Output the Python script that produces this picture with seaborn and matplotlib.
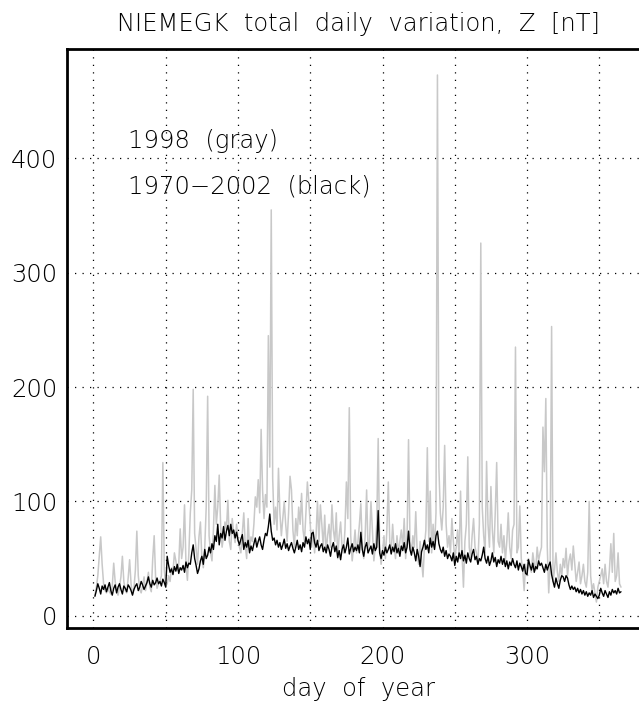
import numpy as np
import pandas as pd
import matplotlib
matplotlib.use("Agg")
import matplotlib.pyplot as plt
import seaborn as sns

# ---- data ----
mean_1970_2002 = [
    17, 22, 28, 24, 19, 26, 23, 27, 21, 25,
    29, 22, 18, 24, 27, 20, 25, 28, 23, 19,
    26, 24, 21, 27, 25, 22, 18, 23, 26, 28,
    22, 25, 30, 27, 23, 26, 29, 34, 28, 25,
    31, 27, 29, 33, 28, 30, 26, 32, 29, 25,
    52, 44, 38, 41, 36, 43, 39, 45, 37, 42,
    40, 44, 38, 47, 42, 46, 45, 55, 62, 50,
    44, 37, 41, 48, 52, 45, 58, 50, 53, 60,
    55, 63, 58, 70, 65, 80, 62, 72, 68, 78,
    66, 74, 79, 70, 80, 72, 75, 68, 73, 66,
    62, 67, 71, 58, 64, 60, 66, 55, 61, 57,
    63, 68, 60, 65, 69, 62, 58, 66, 72, 70,
    78, 89, 74, 66, 68, 62, 66, 60, 64, 58,
    62, 67, 59, 63, 57, 61, 64, 59, 55, 60,
    66, 58, 62, 56, 64, 60, 69, 63, 67, 58,
    72, 73, 64, 60, 66, 57, 61, 63, 56, 60,
    55, 62, 58, 52, 60, 64, 56, 61, 51, 57,
    49, 58, 62, 55, 60, 68, 54, 59, 63, 56,
    60, 57, 62, 55, 73, 58, 52, 60, 64, 55,
    58, 61, 54, 63, 57, 60, 92, 55, 50, 57,
    53, 60, 55, 58, 62, 54, 60, 56, 63, 55,
    59, 52, 61, 57, 64, 55, 60, 74, 58, 53,
    60, 55, 48, 58, 52, 43, 56, 60, 66, 58,
    62, 55, 68, 60, 65, 58, 70, 74, 63, 58,
    55, 60, 52, 57, 50, 54, 52, 48, 55, 44,
    52, 47, 55, 50, 57, 48, 53, 46, 55, 50,
    47, 54, 58, 49, 52, 45, 50, 48, 53, 60,
    50, 46, 52, 44, 48, 55, 47, 51, 43, 49,
    46, 52, 45, 50, 43, 48, 41, 47, 44, 50,
    45, 42, 48, 40, 46, 43, 39, 45, 37, 36,
    49, 44, 40, 46, 38, 43, 41, 48, 44, 46,
    42, 38, 45, 40, 44, 47, 36, 30, 25, 33,
    28, 24, 31, 35, 34, 30, 35, 33, 27, 23,
    26, 23, 25, 21, 24, 20, 23, 19, 22, 18,
    21, 17, 20, 18, 22, 16, 19, 17, 15, 18,
    24, 20, 17, 22, 19, 16, 21, 18, 23, 20,
    22, 19, 24, 20, 21,
]

year_1998 = [
    18, 25, 35, 52, 69, 45, 28, 22, 20, 24,
    21, 19, 26, 46, 30, 22, 18, 25, 34, 52,
    30, 22, 20, 33, 49, 28, 19, 24, 40, 74,
    35, 23, 20, 26, 34, 22, 29, 38, 25, 21,
    50, 70, 33, 24, 28, 30, 35, 134, 40, 26,
    28, 35, 30, 42, 38, 55, 48, 40, 45, 76,
    50, 60, 97, 45, 31, 55, 90, 110, 198, 72,
    58, 45, 69, 82, 50, 42, 60, 95, 192, 70,
    55, 48, 75, 114, 80, 95, 123, 78, 60, 70,
    82, 75, 101, 65, 58, 85, 72, 64, 80, 68,
    60, 55, 72, 90, 62, 50, 85, 58, 69, 65,
    80, 104, 95, 119, 90, 163, 110, 85, 106, 95,
    245, 130, 355, 120, 80, 95, 75, 129, 90, 70,
    85, 100, 80, 65, 90, 122, 110, 75, 60, 85,
    70, 95, 80, 107, 75, 65, 90, 117, 100, 80,
    60, 75, 55, 70, 100, 65, 97, 80, 60, 88,
    55, 70, 80, 60, 97, 75, 65, 90, 50, 70,
    82, 60, 55, 75, 117, 85, 182, 70, 48, 60,
    75, 55, 65, 80, 98, 60, 50, 70, 110, 55,
    65, 100, 75, 48, 60, 80, 155, 60, 45, 55,
    70, 50, 75, 117, 65, 55, 80, 60, 50, 70,
    55, 65, 75, 60, 85, 50, 70, 154, 65, 55,
    70, 60, 91, 55, 45, 65, 50, 34, 60, 75,
    147, 65, 109, 55, 80, 60, 90, 473, 130, 90,
    75, 95, 149, 80, 60, 70, 55, 85, 65, 50,
    60, 75, 50, 109, 55, 25, 65, 80, 139, 60,
    50, 70, 85, 60, 55, 45, 80, 326, 95, 70,
    55, 135, 80, 60, 113, 75, 55, 90, 134, 65,
    60, 80, 55, 70, 48, 65, 90, 60, 50, 75,
    80, 235, 55, 60, 96, 50, 40, 22, 45, 35,
    50, 42, 38, 55, 45, 40, 60, 48, 55, 60,
    165, 126, 190, 60, 20, 45, 253, 30, 40, 55,
    38, 30, 45, 35, 50, 42, 59, 35, 48, 54,
    40, 61, 45, 30, 38, 47, 28, 35, 45, 30,
    25, 38, 100, 35, 22, 28, 20, 12, 25, 30,
    35, 41, 28, 45, 30, 25, 40, 63, 38, 72,
    30, 35, 55, 28, 25,
]

days = list(range(1, len(mean_1970_2002) + 1))

title = "NIEMEGK  total  daily  variation,  Z  [nT]"
xlabel = "day  of  year"
legend_lines = ["1998  (gray)", "1970\u22122002  (black)"]
x_ticks = [0, 50, 100, 150, 200, 250, 300, 350]
x_labels = ["0", "", "100", "", "200", "", "300", ""]
y_ticks = [0, 100, 200, 300, 400]

df = pd.DataFrame({
    "day": days + days,
    "value": year_1998 + mean_1970_2002,
    "series": ["1998"] * len(days) + ["1970-2002"] * len(days),
})

# ---- styling ----
sns.set_style("white")
plt.rcParams["font.family"] = ["DejaVu Sans"]
plt.rcParams["font.weight"] = "light"

FS = 17.5
TXT = "black"

fig = plt.figure(figsize=(6.39, 7.04), dpi=100)
ax = fig.add_axes([0.1049, 0.1075, 0.911, 0.8225])

sns.lineplot(data=df[df.series == "1998"], x="day", y="value", ax=ax,
             color="#c8c8c8", linewidth=1.1, legend=False)
sns.lineplot(data=df[df.series == "1970-2002"], x="day", y="value", ax=ax,
             color="black", linewidth=1.0, legend=False)

ax.set_xlim(-18.3, 384.5)
ax.set_ylim(-11, 495.5)
ax.set_xticks(x_ticks)
ax.set_xticklabels(x_labels)
ax.set_yticks(y_ticks)

ax.grid(True, color="black", linestyle=(0, (1, 5)), linewidth=0.9)
for s in ax.spines.values():
    s.set_linewidth(2.0)
    s.set_color("black")

ax.tick_params(axis="both", direction="in", length=6, width=1, color="black",
               labelsize=FS, labelcolor=TXT)
ax.tick_params(axis="x", pad=12)
ax.tick_params(axis="y", pad=7)
for lab in ax.get_xticklabels() + ax.get_yticklabels():
    lab.set_fontweight("light")

ax.set_xlabel(xlabel, fontsize=FS, labelpad=6, color=TXT, fontweight="light")
ax.set_ylabel("")
ax.set_title(title, fontsize=FS, pad=13, color=TXT, fontweight="light")

ax.text(23.9, 409, legend_lines[0], fontsize=FS, va="baseline", ha="left",
        color=TXT, fontweight="light")
ax.text(23.9, 369, legend_lines[1], fontsize=FS, va="baseline", ha="left",
        color=TXT, fontweight="light")

fig.savefig("out.png", dpi=100)
